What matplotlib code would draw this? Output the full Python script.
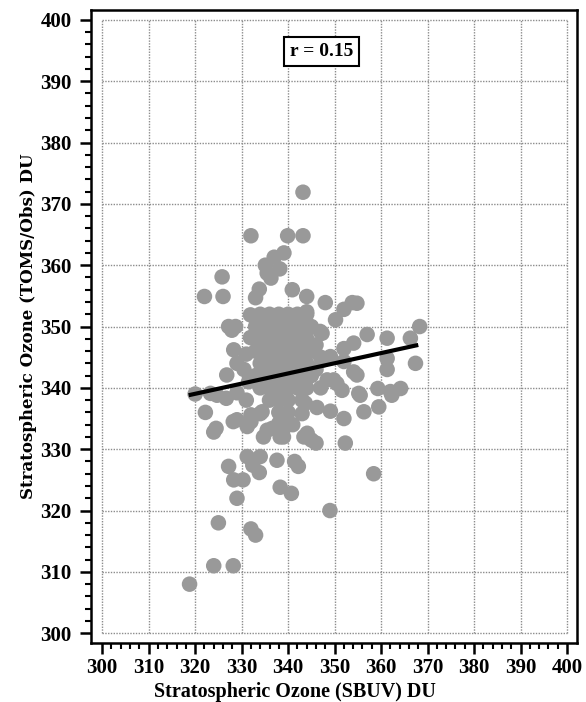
import numpy as np
import matplotlib
matplotlib.use("Agg")
import matplotlib.pyplot as plt

# SBUV (x) vs TOMS/Obs (y) stratospheric ozone, DU
sbuv = [
    318.8, 324.0, 328.2, 325.0, 332.0, 333.0, 349.0, 329.0, 338.3, 340.7,
    328.3, 330.3, 327.2, 333.8, 331.2, 334.0, 332.4, 337.6, 341.4, 342.2, 358.4,
    324.5, 324.0, 328.2, 331.2, 334.7, 336.6, 338.3, 344.1, 346.0, 352.3,
    352.0, 349.1, 343.0, 346.2, 343.7,
    322.2, 320.0, 323.3, 324.7, 326.7, 329.0, 329.0, 332.0, 334.0, 332.0,
    334.4, 335.5, 338.0, 339.4, 343.4, 345.0,
    355.2, 356.3, 359.5, 359.3, 362.0, 364.2, 362.3, 355.5, 361.3, 361.3,
    361.3, 366.3, 367.4, 368.3, 357.0, 354.1, 352.0, 354.1, 350.5, 351.6,
    347.3, 354.8, 354.8, 348.4, 349.8, 347.3, 352.0, 349.1,
    327.9, 328.3, 326.8, 327.2, 328.7, 329.0,
    325.8, 322.0, 326.0,
    343.2, 332.0, 339.9, 343.2, 339.1, 337.0, 335.1, 335.5, 338.2, 336.3,
    333.8, 333.0, 340.9, 344.0, 348.0, 353.8, 350.2, 352.0, 346.9, 331.9,
    331.9, 344.0,
    # dense core
    334.0, 336.0, 338.0, 340.0, 342.0, 344.0,
    333.0, 335.0, 337.0, 339.0, 341.0, 343.0, 345.0,
    334.0, 336.0, 338.0, 340.0, 342.0, 344.0, 346.0,
    333.0, 335.0, 337.0, 339.0, 341.0, 343.0, 345.0, 347.0,
    334.0, 336.0, 338.0, 340.0, 342.0, 344.0, 346.0,
    333.0, 335.0, 337.0, 339.0, 341.0, 343.0, 345.0,
    334.0, 336.0, 338.0, 340.0, 342.0, 344.0, 347.0,
    336.0, 338.0, 340.0, 343.0,
    338.0, 340.0, 341.0, 339.0,
    331.0, 331.5, 331.0, 330.5,
]
toms = [
    308.0, 311.0, 311.0, 318.0, 317.0, 316.0, 320.0, 322.0, 323.8, 322.8,
    325.0, 325.0, 327.2, 326.2, 328.8, 328.8, 327.4, 328.2, 328.0, 327.2, 326.0,
    333.4, 332.8, 334.5, 333.7, 332.0, 333.4, 332.0, 332.6, 331.0, 331.0,
    335.0, 336.2, 335.8, 336.8, 337.5,
    336.0, 339.0, 339.1, 338.8, 338.3, 339.2, 334.8, 334.5, 335.8, 335.6,
    336.1, 333.1, 334.2, 333.7, 332.0, 331.5,
    339.1, 336.1, 336.9, 339.9, 339.4, 339.9, 338.8, 338.8, 343.0, 344.8,
    348.1, 348.1, 344.0, 350.0, 348.7, 347.3, 346.4, 342.6, 340.7, 339.6,
    348.9, 353.8, 342.1, 341.3, 341.3, 344.5, 344.3, 345.1,
    349.4, 346.2, 342.1, 350.0, 350.0, 344.0,
    358.1, 354.9, 354.9,
    371.9, 364.8, 364.8, 364.8, 362.0, 361.3, 360.0, 358.7, 359.4, 357.9,
    356.1, 354.7, 356.0, 354.9, 353.9, 353.9, 351.1, 352.8, 349.2, 351.9,
    348.2, 352.4,
    352.0, 352.0, 352.0, 352.0, 352.0, 352.0,
    350.0, 350.0, 350.0, 350.0, 350.0, 350.0, 350.0,
    348.0, 348.0, 348.0, 348.0, 348.0, 348.0, 347.0,
    346.0, 346.0, 346.0, 346.0, 346.0, 346.0, 346.0, 345.0,
    344.0, 344.0, 344.0, 344.0, 344.0, 344.0, 343.0,
    342.0, 342.0, 342.0, 342.0, 342.0, 342.0, 342.0,
    340.0, 340.0, 340.0, 340.0, 340.0, 340.0, 340.0,
    338.0, 338.0, 338.0, 338.0,
    336.0, 336.0, 334.0, 332.0,
    345.5, 341.0, 338.0, 343.0,
]

# regression line end points
fit_x = [318.6, 368.0]
fit_y = [338.8, 347.0]
r_text = "r = 0.15"

ticks = np.arange(300, 401, 10)

serif = ["Liberation Serif", "DejaVu Serif"]
plt.rcParams["font.family"] = serif
plt.rcParams["font.weight"] = "bold"

fig = plt.figure(figsize=(5.86, 7.02), dpi=100)
ax = fig.add_axes([0.1553, 0.0840, 0.8294, 0.9017])

# grid only inside the 300-400 box, dotted
ax.hlines(ticks, 300, 400, colors="#8c8c8c", linestyles=(0, (1, 1)), lw=1.0, zorder=0)
ax.vlines(ticks, 300, 400, colors="#8c8c8c", linestyles=(0, (1, 1)), lw=1.0, zorder=0)

ax.scatter(sbuv, toms, s=125, color="#999999", edgecolors="none", zorder=2)
ax.plot(fit_x, fit_y, color="black", lw=3.0, solid_capstyle="butt", zorder=3)

ax.text(347.2, 394.8, r_text, fontsize=14, fontweight="bold", ha="center", va="center",
        bbox=dict(boxstyle="square,pad=0.3", fc="white", ec="black", lw=1.5), zorder=4)

ax.set_xlim(297.6, 402.15)
ax.set_ylim(298.4, 401.6)
ax.set_xticks(ticks)
ax.set_yticks(ticks)
ax.set_xticks(np.arange(300, 401, 2), minor=True)
ax.set_yticks(np.arange(300, 401, 2), minor=True)
ax.tick_params(which="major", direction="out", length=8, width=1.8, labelsize=15, pad=3)
ax.tick_params(which="minor", direction="out", length=4.5, width=1.5)
ax.tick_params(axis="y", which="major", pad=6)
for lab in ax.get_xticklabels() + ax.get_yticklabels():
    lab.set_fontweight("bold")
for sp in ax.spines.values():
    sp.set_linewidth(1.8)

ax.set_xlabel("Stratospheric Ozone (SBUV) DU", fontsize=14.5, fontweight="bold", labelpad=2)
ax.xaxis.set_label_coords(0.42, -0.062)
ax.set_ylabel("Stratospheric Ozone (TOMS/Obs) DU", fontsize=12, fontweight="bold",
              family=["DejaVu Serif"], labelpad=2)

fig.savefig("out.png", dpi=100)
